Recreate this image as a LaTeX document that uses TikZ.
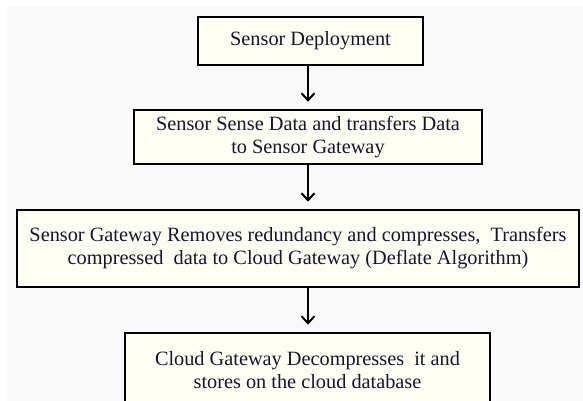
\documentclass[tikz,border=0pt]{standalone}
\usepackage{fontspec}
\setmainfont{Liberation Serif}
\usepackage{xcolor}
\definecolor{paper}{RGB}{249,249,249}
\definecolor{cream}{RGB}{255,255,246}
\definecolor{inkdark}{RGB}{25,20,45}
\usetikzlibrary{arrows.meta,positioning}

\begin{document}
\begin{tikzpicture}[x=1pt,y=1pt,
      b/.style={draw=black,fill=cream,line width=2.6pt,
                align=center,inner sep=0pt,
                font=\fontsize{20.3}{23}\selectfont,text=inkdark},
      a/.style={-{Straight Barb[length=7pt,width=13pt,line width=2pt]},
                line width=2pt,shorten >=7pt}]
      \useasboundingbox (0,0) rectangle (583,-401);
      \clip (0,0) rectangle (583,-401);
      \fill[paper] (6,-7) rectangle (583,-401);
      \coordinate (ax) at (308,0);
      \node[b,minimum width=225,minimum height=48] (dep) at (310.5,-41) {Sensor Deployment};
      \node[b,minimum width=348,minimum height=54] (sns) at (308,-137)
        {Sensor Sense Data and transfers Data\\to Sensor Gateway};
      \node[b,minimum width=562,minimum height=77] (sgw) at (298,-248.5)
        {Sensor Gateway Removes redundancy and compresses,~ Transfers\\compressed~ data to Cloud Gateway (Deflate Algorithm)};
      \node[b,minimum width=365,minimum height=74] (cgw) at (307.5,-370)
        {Cloud Gateway Decompresses~ it and\\stores on the cloud database};
      \draw[a] (dep.south -| ax) -- (sns.north -| ax);
      \draw[a] (sns.south -| ax) -- (sgw.north -| ax);
      \draw[a] (sgw.south -| ax) -- (cgw.north -| ax);
    \end{tikzpicture}
\end{document}
